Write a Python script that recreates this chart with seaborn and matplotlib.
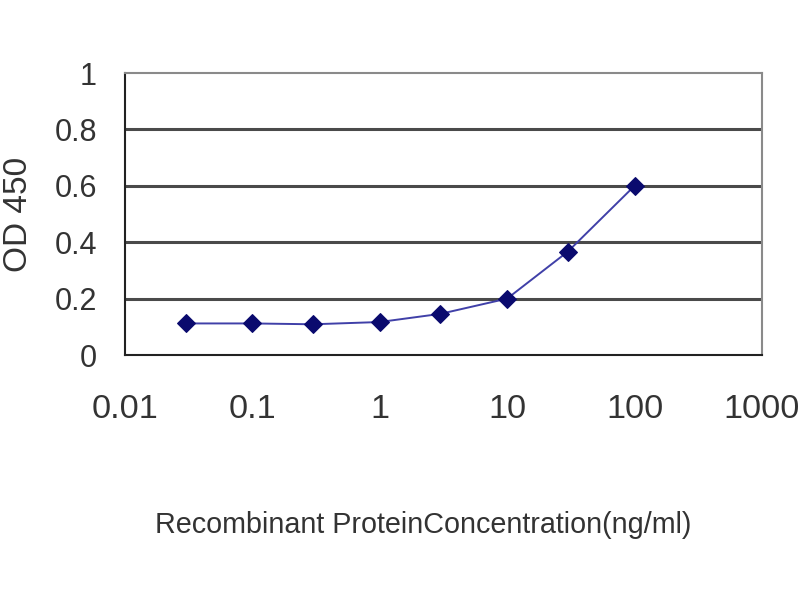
import matplotlib
matplotlib.use("Agg")
import matplotlib.pyplot as plt
import seaborn as sns
import pandas as pd
from matplotlib import font_manager
from matplotlib.ticker import FixedLocator, FixedFormatter, NullLocator

concentration = [0.03, 0.1, 0.3, 1, 3, 10, 30, 100]
od450 = [0.112, 0.112, 0.109, 0.117, 0.146, 0.200, 0.367, 0.600]
x_ticks = [0.01, 0.1, 1, 10, 100, 1000]
x_tick_labels = ["0.01", "0.1", "1", "10", "100", "1000"]
y_ticks = [0, 0.2, 0.4, 0.6, 0.8, 1]
y_tick_labels = ["0", "0.2", "0.4", "0.6", "0.8", "1"]

df = pd.DataFrame({"conc": concentration, "od": od450})

sns.set_style("white")
plt.rcParams["font.family"] = ["Liberation Sans", "DejaVu Sans"]

available = {f.name for f in font_manager.fontManager.ttflist}
if "Liberation Sans Narrow" in available:
    narrow = "Liberation Sans Narrow"
    narrow_scale = 1.0
elif "DejaVu Sans Condensed" in available:
    narrow = "DejaVu Sans Condensed"
    narrow_scale = 0.9
else:
    narrow = "Liberation Sans"
    narrow_scale = 0.85

fig = plt.figure(figsize=(8, 6), dpi=100)
ax = fig.add_axes([0.156, 0.4083, 0.7965, 0.4700])

sns.lineplot(data=df, x="conc", y="od", ax=ax, color="#4040a8", linewidth=1.4,
             marker="D", markersize=9, markerfacecolor="#0a0a6e",
             markeredgecolor="#0a0a6e", zorder=3)

ax.set_xscale("log")
ax.set_xlim(0.01, 1000)
ax.set_ylim(0, 1)
ax.xaxis.set_major_locator(FixedLocator(x_ticks))
ax.xaxis.set_major_formatter(FixedFormatter(x_tick_labels))
ax.xaxis.set_minor_locator(NullLocator())
ax.yaxis.set_major_locator(FixedLocator(y_ticks))
ax.yaxis.set_major_formatter(FixedFormatter(y_tick_labels))

for yv in y_ticks[1:-1]:
    ax.axhline(yv, color="#4a4a4a", linewidth=2.2, zorder=1)

for side in ["left", "bottom"]:
    ax.spines[side].set_color("#222222")
    ax.spines[side].set_linewidth(1.5)
for side in ["top", "right"]:
    ax.spines[side].set_color("#8a8a8a")
    ax.spines[side].set_linewidth(1.5)

ax.tick_params(axis="x", direction="in", length=5, width=1.2, color="#222222",
               pad=28, labelcolor="#333333")
ax.tick_params(axis="y", direction="out", length=0, labelsize=22, pad=20,
               labelcolor="#333333")
for lab in ax.get_xticklabels():
    lab.set_fontfamily([narrow, "DejaVu Sans"])
    lab.set_fontsize(29 * narrow_scale)

ax.set_xlabel("Recombinant ProteinConcentration(ng/ml)", color="#333333",
              fontsize=24.4 * narrow_scale / 0.85 * 0.85, family=[narrow, "DejaVu Sans"])
ax.xaxis.set_label_coords(0.468, -0.603)
ax.xaxis.label.set_verticalalignment("center")

ax.set_ylabel("OD 450", fontsize=24, color="#333333")
ax.yaxis.set_label_coords(-0.1664, 0.5)
ax.yaxis.label.set_verticalalignment("center")

fig.savefig("out.png", dpi=100, facecolor="white")
